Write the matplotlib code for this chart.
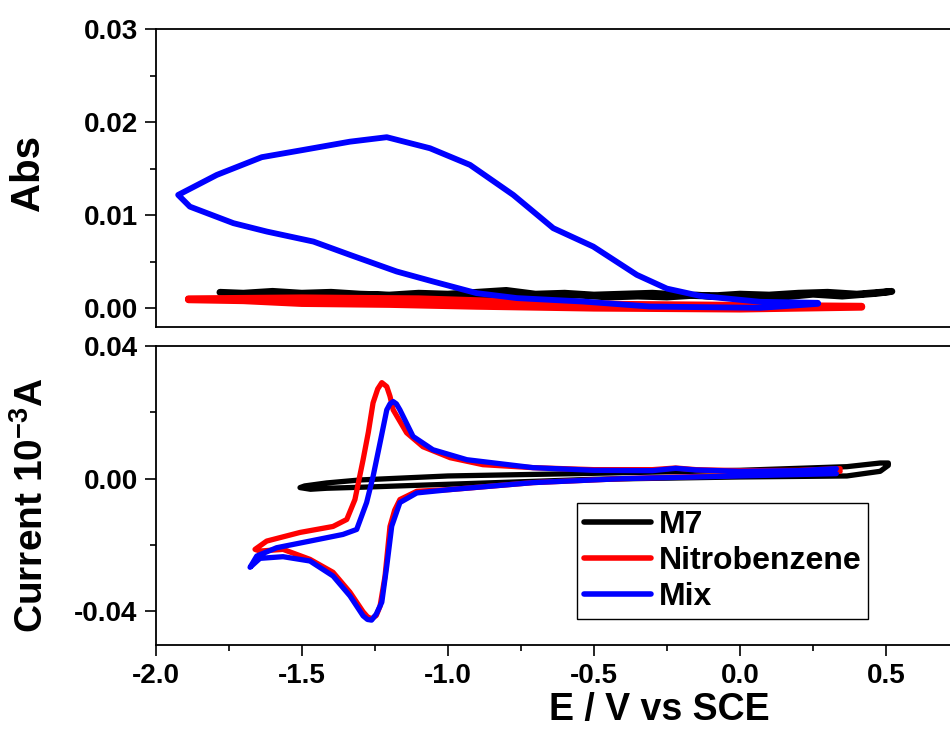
import matplotlib
matplotlib.use('Agg')
import matplotlib.pyplot as plt
from matplotlib.ticker import MultipleLocator, FormatStrFormatter

plt.rcParams['font.family'] = ['Liberation Sans', 'DejaVu Sans']
plt.rcParams['font.weight'] = 'bold'
plt.rcParams['axes.unicode_minus'] = False
plt.rcParams['mathtext.default'] = 'regular'

# ---- top panel: absorbance vs potential ----
abs_m7_x = [-1.78, -1.7, -1.6, -1.5, -1.4, -1.3, -1.2, -1.1, -1.0, -0.9, -0.8, -0.7,
            -0.6, -0.5, -0.4, -0.3, -0.2, -0.1, 0.0, 0.1, 0.2, 0.3, 0.4, 0.52,
            0.47, 0.35, 0.25, 0.15, 0.05, -0.05, -0.15, -0.25, -0.35, -0.45, -0.55,
            -0.65, -0.75, -0.85, -0.95, -1.05, -1.15, -1.25, -1.35, -1.45, -1.55,
            -1.65, -1.75]
abs_m7_y = [0.0017, 0.0016, 0.0018, 0.0016, 0.0017, 0.0015, 0.0014, 0.0016, 0.0015,
            0.0017, 0.0019, 0.0015, 0.0016, 0.0014, 0.0015, 0.0016, 0.0014, 0.0013,
            0.0015, 0.0014, 0.0016, 0.0017, 0.0015, 0.0018,
            0.0016, 0.0013, 0.0015, 0.0012, 0.0013, 0.0012, 0.0014, 0.0012, 0.0013,
            0.0012, 0.0014, 0.0013, 0.0012, 0.0014, 0.0013, 0.0012, 0.0013, 0.0014,
            0.0012, 0.0013, 0.0014, 0.0013, 0.0015]

abs_nb_x = [-1.888, -1.5, -1.1, -0.8, -0.4, 0.0, 0.417, 0.417, 0.0, -0.5, -0.9,
            -1.2, -1.5, -1.7, -1.888]
abs_nb_y = [0.0010, 0.0011, 0.0010, 0.0007, 0.0004, 0.0003, 0.0002, 0.0001, -0.0001,
            0.0000, 0.0002, 0.0004, 0.0005, 0.0008, 0.0009]

abs_mix_x = [0.267, 0.069, -0.137, -0.25, -0.353, -0.502, -0.639, -0.776, -0.924,
             -1.061, -1.209, -1.335, -1.495, -1.637, -1.791, -1.923, -1.883, -1.734,
             -1.620, -1.460, -1.335, -1.175, -1.050, -0.901, -0.764, -0.537, -0.308,
             0.069, 0.267]
abs_mix_y = [0.00057, 0.00068, 0.00132, 0.0021, 0.00358, 0.00662, 0.00860, 0.01218,
             0.01541, 0.01720, 0.01839, 0.01791, 0.01702, 0.01624, 0.01433, 0.01218,
             0.01092, 0.00914, 0.00824, 0.00716, 0.00573, 0.00394, 0.00286, 0.00161,
             0.00108, 0.00071, 0.00017, 0.00003, 0.00046]

# ---- bottom panel: cyclic voltammograms ----
cv_m7_x = [0.508, 0.48, 0.366, 0.0, -0.5, -1.0, -1.3, -1.415, -1.49, -1.506,
           -1.47, -1.415, -1.3, -1.0, -0.5, 0.0, 0.366, 0.48, 0.508]
cv_m7_y = [0.0047, 0.0047, 0.0036, 0.0025, 0.0016, 0.0008, -0.0004, -0.0013, -0.0022,
           -0.0027, -0.0032, -0.0029, -0.0026, -0.0017, -0.0002, 0.0005, 0.0008,
           0.0022, 0.0040]

cv_nb_x = [0.343, 0.2, 0.0, -0.15, -0.22, -0.3, -0.5, -0.708, -0.880, -0.992, -1.085,
           -1.141, -1.187, -1.198, -1.209, -1.226, -1.240, -1.256, -1.272, -1.290,
           -1.318, -1.346, -1.393, -1.506, -1.620, -1.660, -1.643, -1.564, -1.472,
           -1.393, -1.335, -1.290, -1.275, -1.261, -1.245, -1.232, -1.215, -1.198,
           -1.182, -1.164, -1.106, -0.992, -0.708, -0.4, 0.0, 0.343]
cv_nb_y = [0.0030, 0.0025, 0.0024, 0.0027, 0.0032, 0.0027, 0.0027, 0.0033, 0.0042,
           0.0063, 0.0096, 0.0138, 0.0207, 0.0248, 0.0277, 0.0289, 0.0270, 0.0228,
           0.0140, 0.0057, -0.0063, -0.0123, -0.0144, -0.0162, -0.0188, -0.0213,
           -0.0218, -0.0213, -0.0243, -0.0282, -0.0342, -0.0401, -0.0416, -0.0422,
           -0.0412, -0.0384, -0.0294, -0.0144, -0.0095, -0.0063, -0.0038, -0.0033,
           -0.0012, 0.0000, 0.0010, 0.0022]

cv_mix_x = [0.33, 0.2, 0.0, -0.15, -0.22, -0.3, -0.5, -0.708, -0.935, -1.051, -1.119,
            -1.164, -1.176, -1.187, -1.198, -1.209, -1.232, -1.256, -1.278, -1.312,
            -1.359, -1.472, -1.586, -1.654, -1.677, -1.643, -1.564, -1.472, -1.393,
            -1.335, -1.290, -1.275, -1.261, -1.245, -1.226, -1.209, -1.192, -1.164,
            -1.106, -0.992, -0.708, -0.4, 0.0, 0.33]
cv_mix_y = [0.0030, 0.0024, 0.0022, 0.0026, 0.0031, 0.0024, 0.0025, 0.0033, 0.0057,
            0.0087, 0.0127, 0.0207, 0.0225, 0.0232, 0.0225, 0.0207, 0.0108, 0.0006,
            -0.0072, -0.0153, -0.0168, -0.0188, -0.0208, -0.0233, -0.0267, -0.0240,
            -0.0235, -0.0248, -0.0293, -0.0353, -0.0413, -0.0424, -0.0426, -0.0408,
            -0.0372, -0.0263, -0.0143, -0.0072, -0.0043, -0.0033, -0.0012, 0.0000,
            0.0008, 0.0015]

labels = ['M7', 'Nitrobenzene', 'Mix']
colors = ['black', '#ff0000', '#0000ff']

fig = plt.figure(figsize=(9.5, 7.38), dpi=100)
ax1 = fig.add_axes([0.1639, 0.5573, 0.8456, 0.403])
ax2 = fig.add_axes([0.1639, 0.1264, 0.8456, 0.4051])

line_kw = dict(solid_capstyle='round', solid_joinstyle='round')

# top
ax1.plot(abs_m7_x, abs_m7_y, color=colors[0], lw=5, **line_kw)
ax1.plot(abs_nb_x, abs_nb_y, color=colors[1], lw=5, **line_kw)
ax1.plot(abs_mix_x, abs_mix_y, color=colors[2], lw=4.2, **line_kw)

# bottom
ax2.plot(cv_m7_x, cv_m7_y, color=colors[0], lw=3.8, label=labels[0], **line_kw)
ax2.plot(cv_nb_x, cv_nb_y, color=colors[1], lw=3.8, label=labels[1], **line_kw)
ax2.plot(cv_mix_x, cv_mix_y, color=colors[2], lw=3.8, label=labels[2], **line_kw)

for ax in (ax1, ax2):
    ax.set_xlim(-2.0, 0.75)
    ax.xaxis.set_major_locator(MultipleLocator(0.5))
    ax.xaxis.set_minor_locator(MultipleLocator(0.25))
    ax.xaxis.set_major_formatter(FormatStrFormatter('%.1f'))
    ax.yaxis.set_major_formatter(FormatStrFormatter('%.2f'))
    ax.spines['right'].set_visible(False)
    for s in ax.spines.values():
        s.set_linewidth(1.3)
    ax.tick_params(axis='both', which='major', direction='out', length=8,
                   width=1.2, labelsize=20, pad=5)
    ax.tick_params(axis='both', which='minor', direction='out', length=4.5, width=1.2)
    ax.tick_params(top=False, right=False)

ax1.set_ylim(-0.002, 0.03)
ax1.yaxis.set_major_locator(MultipleLocator(0.01))
ax1.yaxis.set_minor_locator(MultipleLocator(0.005))
ax1.tick_params(axis='x', which='both', bottom=False, labelbottom=False)

ax2.set_ylim(-0.05, 0.04)
ax2.yaxis.set_major_locator(MultipleLocator(0.04))
ax2.yaxis.set_minor_locator(MultipleLocator(0.02))

ax1.set_ylabel('Abs', fontsize=29, fontweight='bold')
ax1.yaxis.set_label_coords(-0.135, 0.517)
ax2.set_ylabel('Current 10$^{-3}$A', fontsize=28, fontweight='bold')
ax2.yaxis.set_label_coords(-0.13, 0.467)
ax2.set_xlabel('E / V vs SCE', fontsize=27, fontweight='bold')
ax2.xaxis.set_label_coords(0.6266, -0.158)

leg = ax2.legend(loc='upper left', bbox_to_anchor=(0.6077, 0.318),
                 bbox_transform=fig.transFigure, fontsize=23, frameon=True,
                 fancybox=False, edgecolor='black', framealpha=1,
                 handlelength=2.1, handletextpad=0.25, labelspacing=0.2,
                 borderpad=0.2, borderaxespad=0)
leg.get_frame().set_linewidth(1.0)
for h in leg.get_lines():
    h.set_linewidth(4)
    h.set_solid_capstyle('round')

fig.savefig('out.png', dpi=100)
